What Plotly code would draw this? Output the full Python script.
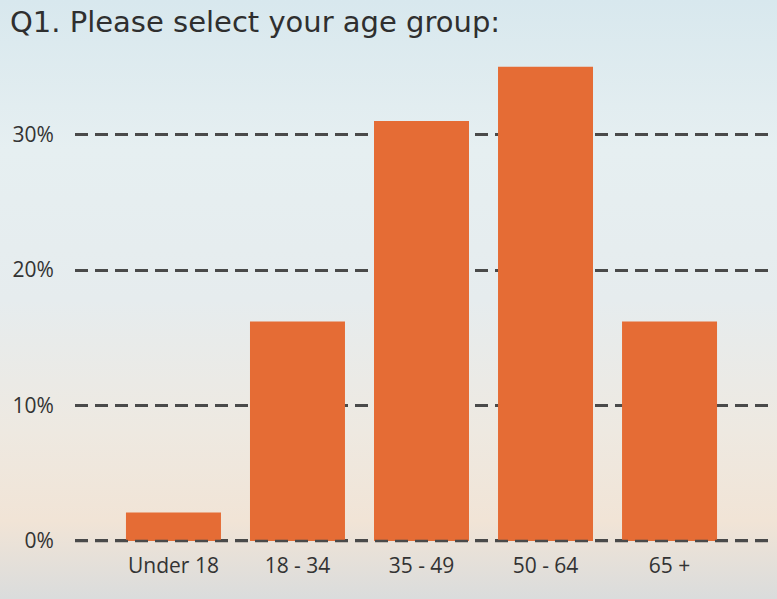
import base64
import plotly.graph_objects as go

# survey answers, share of respondents
age_groups = ["Under 18", "18 - 34", "35 - 49", "50 - 64", "65 +"]
shares = [0.021, 0.162, 0.310, 0.350, 0.162]
tick_vals = [0, 0.1, 0.2, 0.3]
tick_text = ["0%", "10%", "20%", "30%"]

# sky-ish backdrop as an svg gradient
svg = """<svg xmlns='http://www.w3.org/2000/svg' width='777' height='599' preserveAspectRatio='none'>
<defs><linearGradient id='g' x1='0' y1='0' x2='0' y2='1'>
<stop offset='0' stop-color='#d8e8ee'/>
<stop offset='0.25' stop-color='#e6eff1'/>
<stop offset='0.5' stop-color='#e6ecee'/>
<stop offset='0.72' stop-color='#eee9e1'/>
<stop offset='0.87' stop-color='#f1e4d6'/>
<stop offset='1' stop-color='#dadcdc'/>
</linearGradient></defs>
<rect width='777' height='599' fill='url(#g)'/></svg>"""
bg_src = "data:image/svg+xml;base64," + base64.b64encode(svg.encode()).decode()

fig = go.Figure()
fig.add_trace(go.Bar(
    x=age_groups,
    y=shares,
    marker=dict(color="#e56c35", line=dict(width=0)),
    hovertemplate="%{x}: %{y:.0%}<extra></extra>",
))

fig.update_layout(
    width=777,
    height=599,
    margin=dict(l=75, r=9, t=50, b=56),
    paper_bgcolor="#e4ecee",
    plot_bgcolor="rgba(0,0,0,0)",
    bargap=0.234,
    showlegend=False,
    font=dict(family="Open Sans", color="#333333"),
    title=dict(
        text="Q1. Please select your age group:",
        x=10 / 777, xanchor="left", xref="container",
        y=1 - 22 / 599, yanchor="middle", yref="container",
        font=dict(family="DejaVu Sans", size=29, color="#2f2f2f"),
    ),
    images=[dict(
        source=bg_src, xref="paper", yref="paper",
        x=-75 / 693, y=1 + 50 / 493, sizex=777 / 693, sizey=599 / 493,
        xanchor="left", yanchor="top", sizing="stretch", layer="below",
    )],
    shapes=[dict(
        type="line", xref="paper", yref="y", x0=0, x1=1, y0=0, y1=0,
        line=dict(color="#4a4a4a", width=2.5, dash="13px,7px"), layer="above",
    )],
)

fig.update_xaxes(
    range=[-0.794, 4.794],
    showgrid=False, zeroline=False, showline=False,
    ticks="outside", ticklen=4, tickcolor="rgba(0,0,0,0)",
    tickfont=dict(size=21, color="#333333"),
)
fig.update_yaxes(
    range=[-0.0015, 0.3624],
    tickvals=tick_vals, ticktext=tick_text,
    showgrid=True, gridcolor="#4a4a4a", gridwidth=2.5, griddash="13px,7px",
    zeroline=False, showline=False,
    ticks="outside", ticklen=16, tickcolor="rgba(0,0,0,0)",
    tickfont=dict(size=21, color="#333333"),
)

# drop the page margin so the chart sits at 0,0
fig.write_html("out.html", config={"displayModeBar": False},
               post_script="document.body.style.margin='0';")
